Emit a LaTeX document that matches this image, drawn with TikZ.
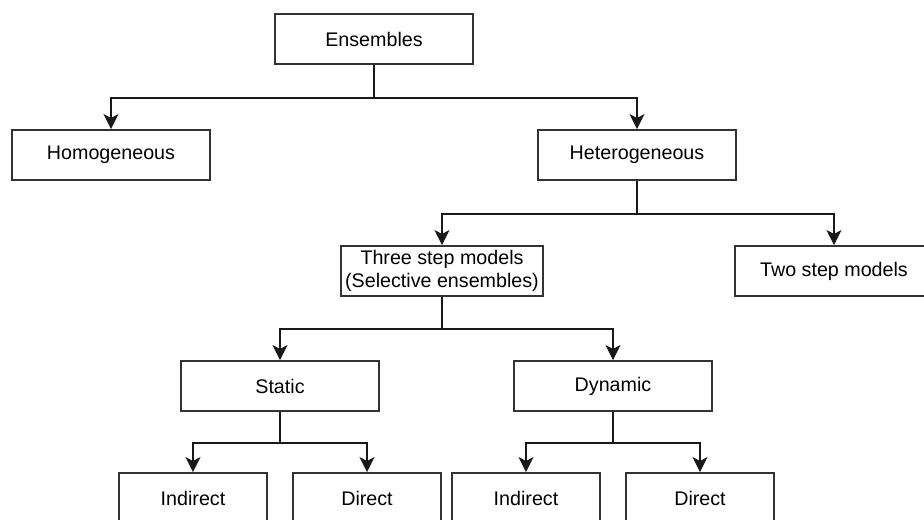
\documentclass[tikz,border=0pt]{standalone}
\usepackage{fontspec}
\setmainfont{Liberation Sans}
\usepackage{tikz}
\usetikzlibrary{arrows.meta, positioning}

\begin{document}
\begin{tikzpicture}[on grid,>={Stealth[length=8.5pt,width=8.5pt,inset=2.2pt]},
        font=\fontsize{11.2}{13}\selectfont,
        box/.style={draw=black!80,line width=1.1pt,fill=white,minimum width=3.96cm,minimum height=1cm,inner sep=1pt,align=center},
        smallbox/.style={box,minimum width=2.96cm},
        link/.style={->,line width=1.1pt,draw=black!90}]

        \useasboundingbox (-7.48,0.78) rectangle (11.0,-9.62);
        \clip (-7.48,0.78) rectangle (11.0,-9.62);

        \node[box] (ensembles) {Ensembles};
        \node[box] (homog) [below left=2.32cm and 5.26cm of ensembles] {Homogeneous};
        \node[box] (heterog) [below right=2.32cm and 5.26cm of ensembles] {Heterogeneous};
        \node[box,minimum width=4.04cm] (threestep) [below left=2.32cm and 3.9cm of heterog] {Three step models\\(Selective ensembles)};
        \node[box] (twostep) [below right=2.32cm and 3.94cm of heterog] {Two step models};
        \node[box] (static) [below left=2.3cm and 3.24cm of threestep] {Static};
        \node[box] (dynamic) [below right=2.3cm and 3.42cm of threestep] {Dynamic};
        \node[smallbox] (indirect_s) [below left=2.24cm and 1.74cm of static] {Indirect};
        \node[smallbox] (direct_s) [below right=2.24cm and 1.74cm of static] {Direct};
        \node[smallbox] (indirect_d) [below left=2.24cm and 1.74cm of dynamic] {Indirect};
        \node[smallbox] (direct_d) [below right=2.24cm and 1.74cm of dynamic] {Direct};

        \draw[link] (ensembles.south) -- ++(0,-0.66) -| (homog.north);
        \draw[link] (ensembles.south) -- ++(0,-0.66) -| (heterog.north);
        \draw[link] (heterog.south) -- ++(0,-0.66) -| (threestep.north);
        \draw[link] (heterog.south) -- ++(0,-0.66) -| (twostep.north);
        \draw[link] (threestep.south) -- ++(0,-0.64) -| (static.north);
        \draw[link] (threestep.south) -- ++(0,-0.64) -| (dynamic.north);
        \draw[link] (static.south) -- ++(0,-0.62) -| (indirect_s.north);
        \draw[link] (static.south) -- ++(0,-0.62) -| (direct_s.north);
        \draw[link] (dynamic.south) -- ++(0,-0.62) -| (indirect_d.north);
        \draw[link] (dynamic.south) -- ++(0,-0.62) -| (direct_d.north);
    \end{tikzpicture}
\end{document}
